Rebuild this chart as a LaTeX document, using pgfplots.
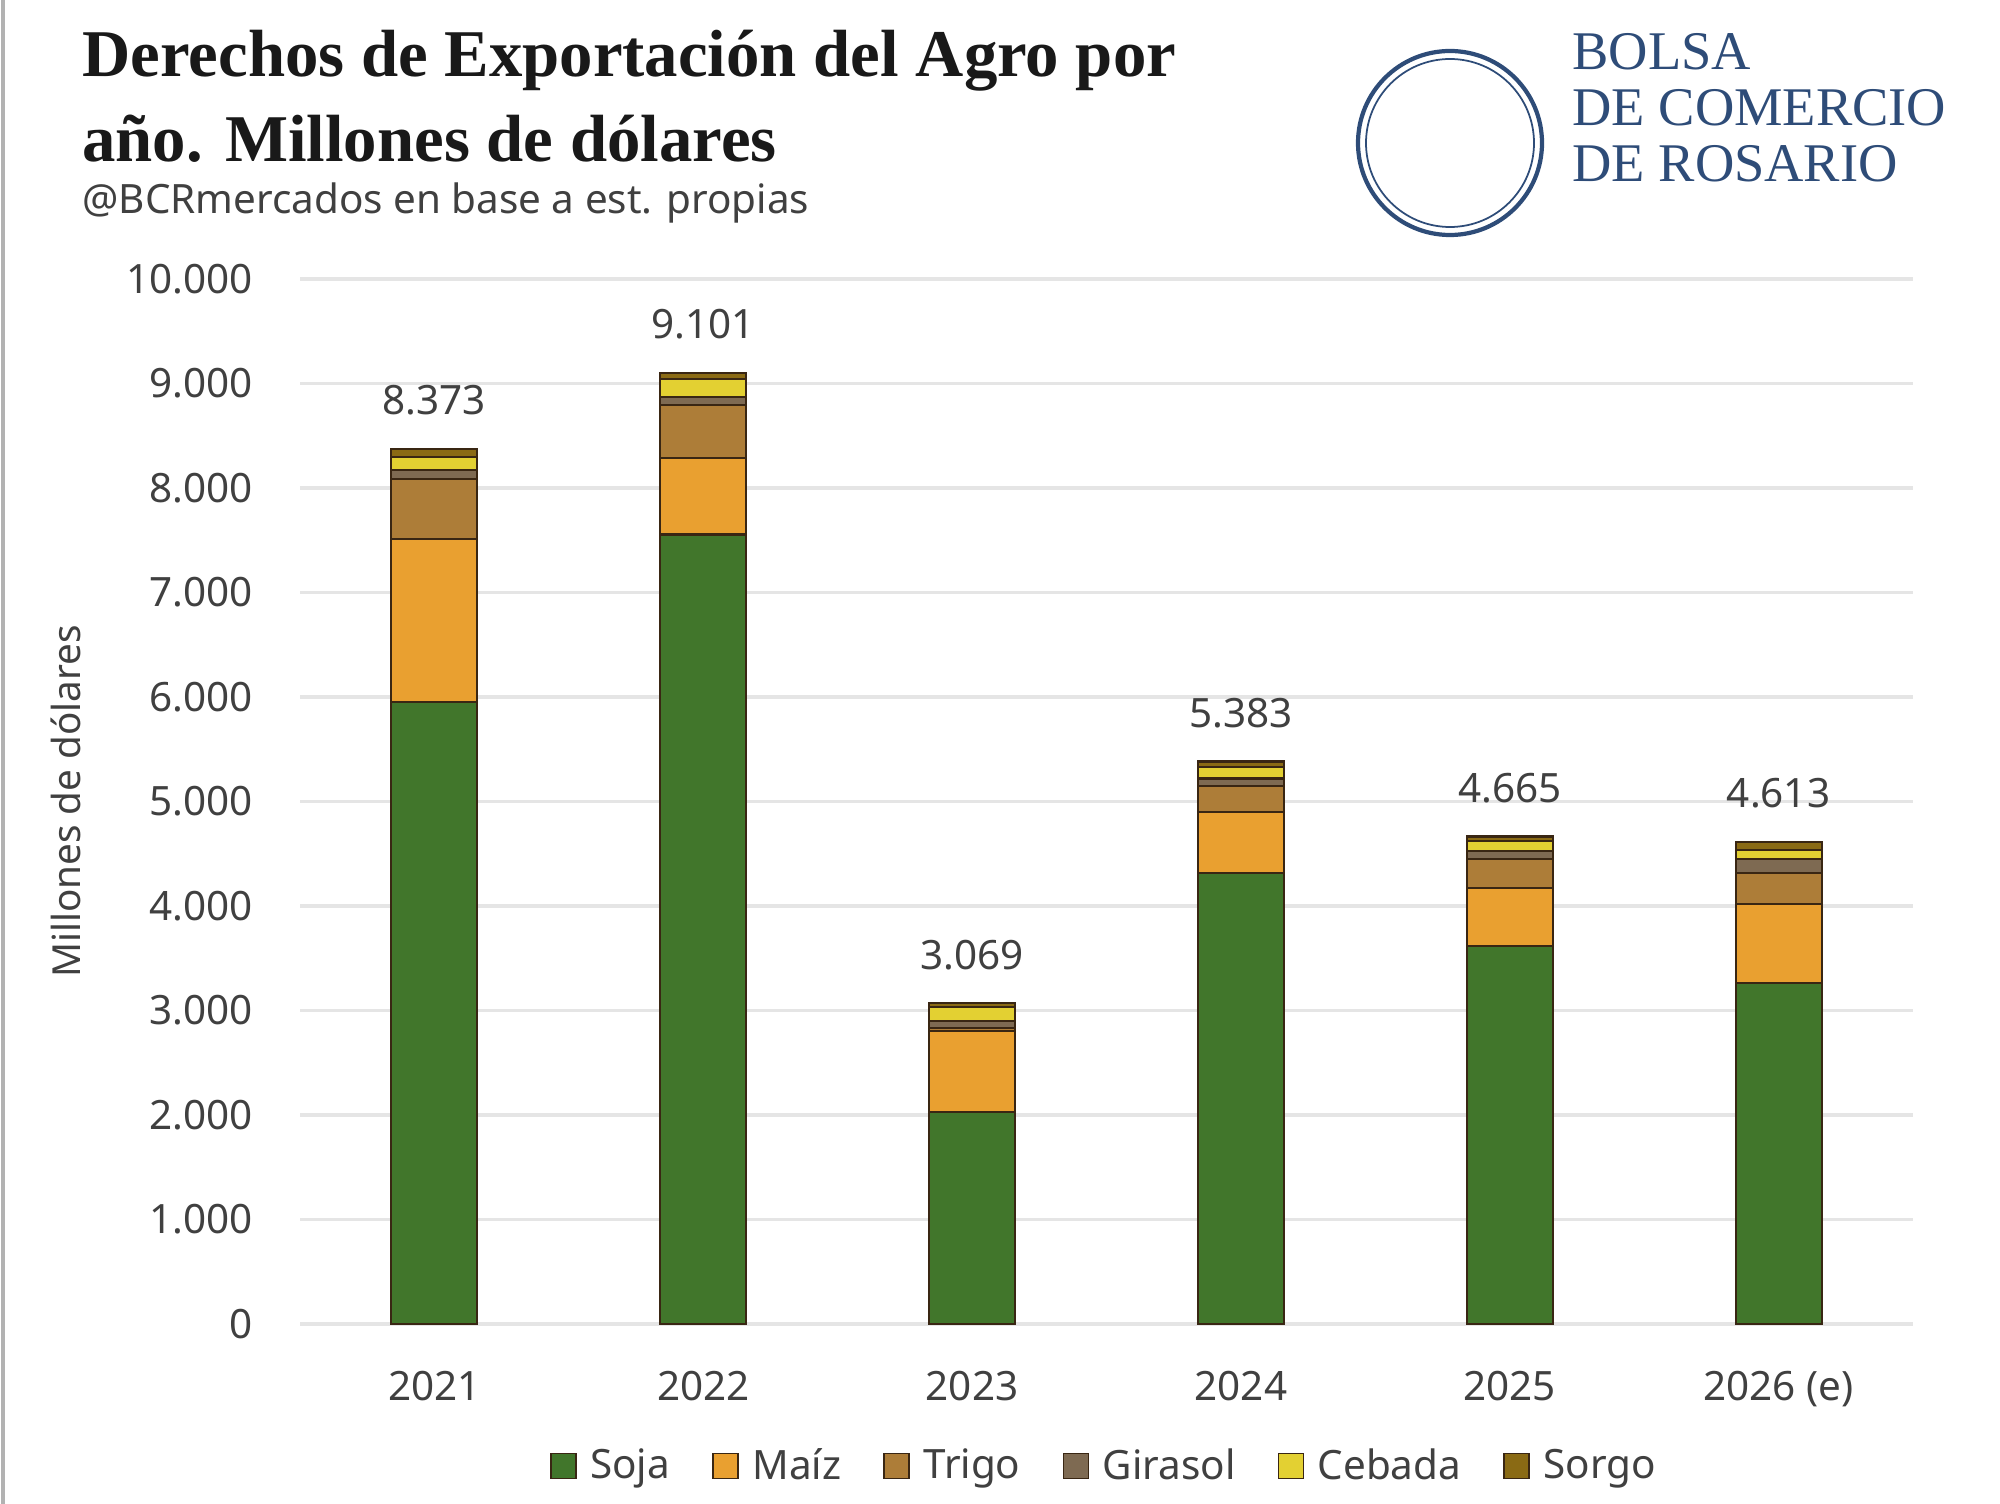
\documentclass[border=0pt]{standalone}
\usepackage{pgfplots}
\pgfplotsset{compat=1.18}
\usepackage{fontspec}
\setmainfont{Noto Sans}
\newfontfamily\titlefont{Liberation Serif}
\definecolor{soja}{HTML}{41762B}
\definecolor{maiz}{HTML}{E9A030}
\definecolor{trigo}{HTML}{AD7D38}
\definecolor{girasol}{HTML}{7E6A52}
\definecolor{cebada}{HTML}{E3D032}
\definecolor{sorgo}{HTML}{8A6A14}
\definecolor{bcr}{HTML}{2E4C78}
\definecolor{txt}{HTML}{404040}
\begin{document}
\begin{tikzpicture}
\useasboundingbox (0,0) rectangle (20,15.03);
\draw[gray!60, line width=1pt] (0.03,-0.5) -- (0.03,15.03);
\begin{axis}[
  at={(3.0cm,1.79cm)}, anchor=south west,
  width=16.13cm, height=10.45cm, scale only axis,
  ybar stacked, bar width=0.86cm,
  xmin=-0.5, xmax=5.5,
  ymin=0, ymax=10000,
  scaled y ticks=false,
  xtick=data, xticklabels={2021,2022,2023,2024,2025,2026 (e)},
  ytick={0,1000,...,10000},
  yticklabel={\pgfmathprintnumber[fixed,1000 sep={.},assume math mode=true]{\tick}},
  /pgf/number format/assume math mode=true,
  ymajorgrids, grid style={gray!20, line width=1pt},
  axis line style={draw=none}, major tick length=0pt,
  axis x line*=bottom,
  tick label style={font=\fontsize{11.5}{14}\selectfont, text=txt},
  yticklabel style={xshift=-10pt},
  xticklabel style={yshift=-10pt},
  ylabel={Millones de dólares}, ylabel style={font=\fontsize{11}{13}\selectfont, text=txt, yshift=6pt},
  every axis plot/.append style={draw=black!70!brown, line width=0.6pt},
  legend style={at={(0.5,-0.105)}, anchor=north, draw=none, legend columns=-1,
    font=\fontsize{11.5}{14}\selectfont, text=txt, /tikz/every even column/.append style={column sep=10pt}},
  legend image code/.code={\draw[#1, line width=0.4pt] (0cm,-0.12cm) rectangle (0.25cm,0.13cm);},
]
\addplot[fill=soja] coordinates {(0,5950) (1,7555) (2,2030) (3,4315) (4,3620) (5,3265)};
\addplot[fill=maiz] coordinates {(0,1560) (1,735) (2,770) (3,585) (4,550) (5,755)};
\addplot[fill=trigo] coordinates {(0,580) (1,500) (2,30) (3,250) (4,280) (5,300)};
\addplot[fill=girasol] coordinates {(0,80) (1,80) (2,70) (3,70) (4,80) (5,130)};
\addplot[fill=cebada] coordinates {(0,130) (1,170) (2,130) (3,110) (4,90) (5,90)};
\addplot[fill=sorgo] coordinates {(0,73) (1,61) (2,39) (3,53) (4,45) (5,73)};
\legend{\,Soja,\,Maíz,\,Trigo,\,Girasol,\,Cebada,\,Sorgo}
\foreach \x/\v/\l in {0/8373/8.373,1/9101/9.101,2/3069/3.069,3/5383/5.383,4/4665/4.665,5/4613/4.613}{
  \edef\tmp{\noexpand\node[anchor=south, font=\noexpand\fontsize{11.5}{14}\noexpand\selectfont, text=txt] at (axis cs:\x,\v) [yshift=6pt] {\l};}\tmp
}
\end{axis}
\node[anchor=north west, align=left, font=\titlefont\bfseries\fontsize{19}{24}\selectfont, text=black!90] at (0.7,14.85) {Derechos de Exportación del Agro por\\año. Millones de dólares};
\node[anchor=west, font=\fontsize{11.5}{14}\selectfont, text=txt] at (0.7,13.0) {@BCRmercados en base a est. propias};
\draw[bcr, line width=1.2pt] (14.5,13.6) circle (0.92);
\draw[bcr, line width=0.5pt] (14.5,13.6) circle (0.84);
\node[anchor=west, align=left, text=bcr, font=\titlefont\fontsize{15.5}{16}\selectfont] at (15.6,13.95) {BOLSA\\DE COMERCIO\\DE ROSARIO};
\end{tikzpicture}
\end{document}
